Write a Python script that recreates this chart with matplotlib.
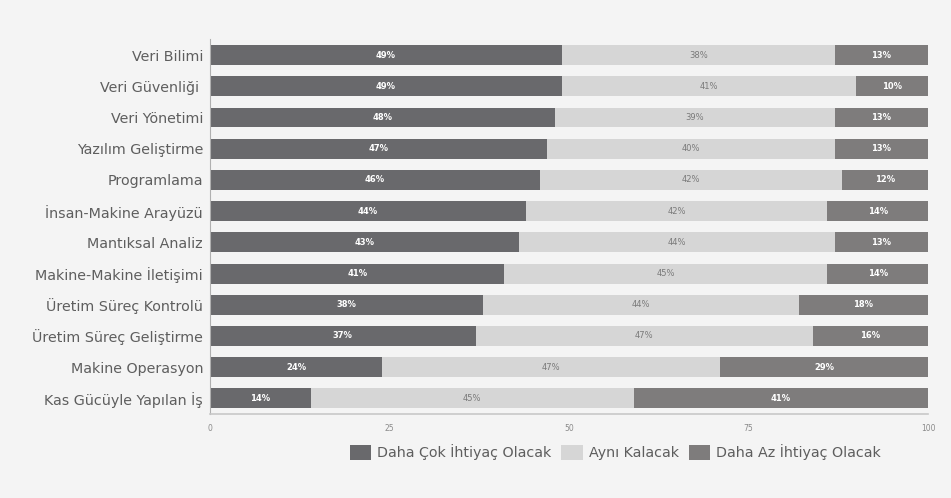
import matplotlib.pyplot as plt
import numpy as np

categories = [
    'Veri Bilimi', 'Veri Güvenliği ', 'Veri Yönetimi', 'Yazılım Geliştirme',
    'Programlama', 'İnsan-Makine Arayüzü', 'Mantıksal Analiz',
    'Makine-Makine İletişimi', 'Üretim Süreç Kontrolü', 'Üretim Süreç Geliştirme',
    'Makine Operasyon', 'Kas Gücüyle Yapılan İş',
]
daha_cok = [49, 49, 48, 47, 46, 44, 43, 41, 38, 37, 24, 14]
ayni = [38, 41, 39, 40, 42, 42, 44, 45, 44, 47, 47, 45]
daha_az = [13, 10, 13, 13, 12, 14, 13, 14, 18, 16, 29, 41]
series_names = ['Daha Çok İhtiyaç Olacak', 'Aynı Kalacak', 'Daha Az İhtiyaç Olacak']
x_ticks = [0, 25, 50, 75, 100]

plt.rcParams['font.family'] = ['DejaVu Sans']

bg = '#f4f4f4'
colors = ['#69696c', '#d6d6d6', '#7e7c7c']
text_colors = ['white', '#7a7a7a', 'white']
weights = ['bold', 'normal', 'bold']

fig = plt.figure(figsize=(9.51, 4.98), dpi=100, facecolor=bg)
ax = fig.add_axes([0.2208, 0.1687, 0.755, 0.752])
ax.set_facecolor(bg)

y = np.arange(len(categories))
left = np.zeros(len(categories))
handles = []
for vals, col, tcol, w, name in zip([daha_cok, ayni, daha_az], colors, text_colors,
                                    weights, series_names):
    vals = np.array(vals)
    bars = ax.barh(y, vals, left=left, height=0.64, color=col, label=name)
    handles.append(bars)
    for yi, l, v in zip(y, left, vals):
        ax.text(l + v / 2, yi, f'{v}%', ha='center', va='center',
                fontsize=6, fontweight=w, color=tcol)
    left += vals

ax.set_xlim(0, 100)
ax.set_ylim(len(categories) - 0.5, -0.5)
ax.set_yticks(y)
ax.set_yticklabels(categories, fontsize=10.3, color='#5e5e5e')
ax.set_xticks(x_ticks)
ax.set_xticklabels([str(t) for t in x_ticks], fontsize=5.5, color='#8a8a8a')
ax.tick_params(axis='both', length=0)
ax.tick_params(axis='x', pad=7)
ax.tick_params(axis='y', pad=5)

for s in ['top', 'right']:
    ax.spines[s].set_visible(False)
ax.spines['left'].set_color('#b0b0b0')
ax.spines['bottom'].set_color('#c8c8c8')
ax.spines['bottom'].set_linewidth(1.2)

fig.legend(handles=handles, loc='center', bbox_to_anchor=(0.647, 0.092),
           ncol=3, frameon=False, fontsize=10.3, labelcolor='#5e5e5e',
           handlelength=1.5, handleheight=1.2, handletextpad=0.4, columnspacing=0.7)

fig.savefig('out.png', dpi=100, facecolor=bg)
